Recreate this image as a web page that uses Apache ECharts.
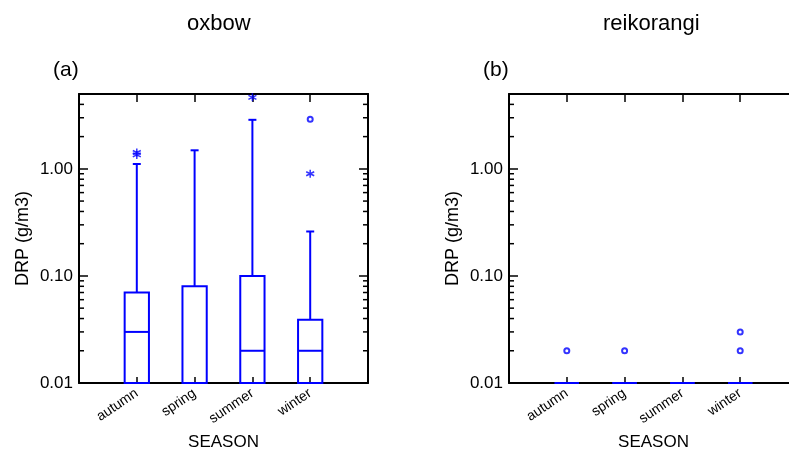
<!DOCTYPE html>
<html>
<head>
<meta charset="utf-8">
<script src="https://cdn.jsdelivr.net/npm/echarts@6/dist/echarts.min.js"></script>
<style>
  html, body { margin: 0; padding: 0; background: #fff; }
  #main { width: 789px; height: 451px; }
</style>
</head>
<body>
<div id="main"></div>
<script>
// season categories (x positions 1..4)
var categories = ['autumn', 'spring', 'summer', 'winter'];

// oxbow box stats
var oxbowQ1 = [0.01, 0.01, 0.01, 0.01];
var oxbowMedian = [0.03, 0.01, 0.02, 0.02];
var oxbowQ3 = [0.07, 0.08, 0.10, 0.039];
var oxbowUpper = [1.11, 1.49, 2.87, 0.26];
// outliers: [category index, value]
var oxbowStars = [[0, 1.35], [0, 1.42], [2, 4.65], [3, 0.90]];
var oxbowCircles = [[3, 2.9]];

// reikorangi box stats
var reikoQ1 = [0.01, 0.01, 0.01, 0.01];
var reikoMedian = [0.01, 0.01, 0.01, 0.01];
var reikoQ3 = [0.01, 0.01, 0.01, 0.01];
var reikoUpper = [0.01, 0.01, 0.01, 0.01];
var reikoStars = [];
var reikoCircles = [[0, 0.02], [1, 0.02], [3, 0.03], [3, 0.02]];

var minorTicks = [0.02, 0.03, 0.04, 0.05, 0.06, 0.07, 0.08, 0.09,
                  0.2, 0.3, 0.4, 0.5, 0.6, 0.7, 0.8, 0.9, 2, 3, 4];

var BLUE = '#0000ff';
var FONT = '"Liberation Sans", Arial, sans-serif';
var STAR = 'path://M0,-5L0,5M-4.33,-2.5L4.33,2.5M-4.33,2.5L4.33,-2.5';

function isDecade(v) {
    var l = Math.log(v) / Math.LN10;
    return Math.abs(l - Math.round(l)) < 1e-6;
}

function boxData(q1, med, q3, up) {
    var out = [];
    for (var i = 0; i < categories.length; i++) {
        out.push([i + 1, q1[i], med[i], q3[i], up[i]]);
    }
    return out;
}

function renderBox(params, api) {
    var x = api.value(0);
    var a = api.coord([x - 0.21, api.value(3)]);
    var b = api.coord([x + 0.21, api.value(1)]);
    var m1 = api.coord([x - 0.21, api.value(2)]);
    var m2 = api.coord([x + 0.21, api.value(2)]);
    var top = api.coord([x, api.value(4)]);
    var q3 = api.coord([x, api.value(3)]);
    var st = { stroke: BLUE, lineWidth: 2, fill: null };
    var kids = [
        { type: 'polygon', shape: { points: [[a[0], a[1]], [b[0], a[1]], [b[0], b[1]], [a[0], b[1]]] }, style: st },
        { type: 'line', shape: { x1: m1[0], y1: m1[1], x2: m2[0], y2: m2[1] }, style: st }
    ];
    if (api.value(4) > api.value(3)) {
        kids.push({ type: 'line', shape: { x1: top[0], y1: top[1], x2: q3[0], y2: q3[1] }, style: st });
        kids.push({ type: 'line', shape: { x1: top[0] - 4, y1: top[1], x2: top[0] + 4, y2: top[1] }, style: st });
    }
    return { type: 'group', children: kids };
}

function renderMinor(params, api) {
    var l = api.coord([0, api.value(1)]);
    var r = api.coord([5, api.value(1)]);
    var st = { stroke: '#000', lineWidth: 1.5 };
    return {
        type: 'group',
        children: [
            { type: 'line', shape: { x1: l[0], y1: l[1], x2: l[0] + 5, y2: l[1] }, style: st },
            { type: 'line', shape: { x1: r[0], y1: r[1], x2: r[0] - 5, y2: r[1] }, style: st }
        ]
    };
}

function shift(list) {
    return list.map(function (p) { return [p[0] + 1, p[1]]; });
}

var axisLine = { show: true, onZero: false, lineStyle: { color: '#000', width: 2 } };

var grids = [
    { left: 79, top: 94, width: 289, height: 289, outerBoundsMode: 'none', containLabel: false },
    { left: 509, top: 94, width: 289, height: 289, outerBoundsMode: 'none', containLabel: false }
];

var xAxes = [], yAxes = [], series = [];
var panels = [
    { q1: oxbowQ1, med: oxbowMedian, q3: oxbowQ3, up: oxbowUpper, stars: oxbowStars, circles: oxbowCircles },
    { q1: reikoQ1, med: reikoMedian, q3: reikoQ3, up: reikoUpper, stars: reikoStars, circles: reikoCircles }
];

panels.forEach(function (p, g) {
    xAxes.push({
        type: 'value', gridIndex: g, min: 0, max: 5, interval: 1, position: 'bottom',
        axisLine: axisLine, splitLine: { show: false },
        axisTick: { inside: true, length: 6, lineStyle: { color: '#000', width: 1.5 } },
        axisLabel: {
            rotate: 34, fontSize: 14, color: '#000', fontFamily: FONT, margin: 9,
            formatter: function (v) { return categories[v - 1] || ''; }
        },
        name: 'SEASON', nameLocation: 'middle', nameGap: 51,
        nameTextStyle: { fontSize: 17, color: '#000', fontFamily: FONT }
    });
    xAxes.push({
        type: 'value', gridIndex: g, min: 0, max: 5, interval: 1, position: 'top',
        axisLine: axisLine, splitLine: { show: false },
        axisTick: { inside: true, length: 8, lineStyle: { color: '#000', width: 1.5 } },
        axisLabel: { show: false }
    });
    yAxes.push({
        type: 'log', logBase: 10, gridIndex: g, min: 0.01, max: 5, position: 'left',
        axisLine: axisLine, splitLine: { show: false },
        axisTick: { inside: true, length: 9, lineStyle: { color: '#000', width: 1.5 } },
        axisLabel: {
            fontSize: 17, color: '#000', fontFamily: FONT, margin: 6,
            formatter: function (v) { return isDecade(v) && v < 4 ? v.toFixed(2) : ''; }
        },
        name: 'DRP (g/m3)', nameLocation: 'middle', nameGap: 47,
        nameTextStyle: { fontSize: 18, color: '#000', fontFamily: FONT }
    });
    yAxes.push({
        type: 'log', logBase: 10, gridIndex: g, min: 0.01, max: 5, position: 'right',
        axisLine: axisLine, splitLine: { show: false },
        axisTick: { inside: true, length: 9, lineStyle: { color: '#000', width: 1.5 } },
        axisLabel: { show: false }
    });

    series.push({
        type: 'custom', xAxisIndex: g * 2, yAxisIndex: g * 2,
        data: minorTicks.map(function (v) { return [0, v]; }),
        renderItem: renderMinor, silent: true, z: 1
    });
    series.push({
        type: 'custom', xAxisIndex: g * 2, yAxisIndex: g * 2,
        data: boxData(p.q1, p.med, p.q3, p.up),
        encode: { x: 0, y: [1, 2, 3, 4] },
        renderItem: renderBox, z: 3
    });
    series.push({
        type: 'scatter', xAxisIndex: g * 2, yAxisIndex: g * 2,
        data: shift(p.stars), symbol: STAR, symbolSize: 8,
        itemStyle: { color: BLUE, borderColor: BLUE, borderWidth: 1.5 }, z: 4
    });
    series.push({
        type: 'scatter', xAxisIndex: g * 2, yAxisIndex: g * 2,
        data: shift(p.circles), symbol: 'emptyCircle', symbolSize: 5,
        itemStyle: { color: BLUE, borderColor: BLUE, borderWidth: 1 }, z: 4
    });
});

var chart = echarts.init(document.getElementById('main'));
chart.setOption({
    backgroundColor: '#fff',
    animation: false,
    grid: grids,
    xAxis: xAxes,
    yAxis: yAxes,
    series: series,
    graphic: [
        { type: 'text', left: 187, top: 13, style: { text: 'oxbow', fontSize: 22, fill: '#000', fontFamily: FONT } },
        { type: 'text', left: 603, top: 13, style: { text: 'reikorangi', fontSize: 22, fill: '#000', fontFamily: FONT } },
        { type: 'text', left: 53, top: 60, style: { text: '(a)', fontSize: 21, fill: '#000', fontFamily: FONT } },
        { type: 'text', left: 483, top: 60, style: { text: '(b)', fontSize: 21, fill: '#000', fontFamily: FONT } }
    ]
});
</script>
</body>
</html>
